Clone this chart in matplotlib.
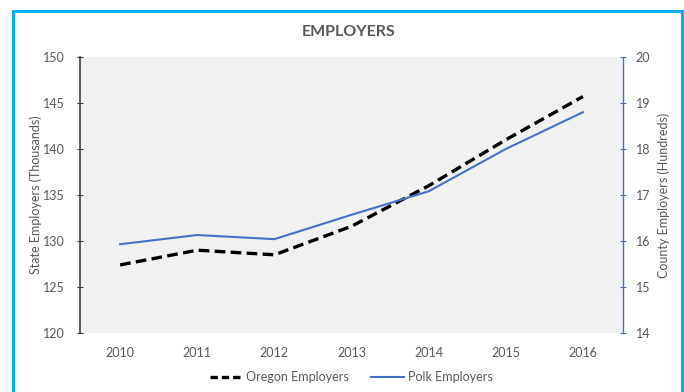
import matplotlib.pyplot as plt
from matplotlib.patches import Rectangle
from matplotlib.lines import Line2D

years = ["2010", "2011", "2012", "2013", "2014", "2015", "2016"]
oregon = [127.4, 129.0, 128.5, 131.6, 136.0, 141.0, 145.7]   # thousands
polk = [15.93, 16.13, 16.04, 16.57, 17.08, 18.0, 18.8]       # hundreds

GRAY = "#595959"
BLUE = "#4472c4"

plt.rcParams['font.family'] = ['Lato', 'DejaVu Sans']


def main():
  fig = plt.figure(figsize=(6.84, 3.92), dpi=100)
  fig.patch.set_facecolor("white")

  # cyan frame around the chart
  fig.add_artist(Rectangle((13/684, -0.05), (682-13)/684, 1.05 - 11/392,
                           transform=fig.transFigure, fill=False,
                           edgecolor="#00b0f0", linewidth=2.2))

  ax = fig.add_axes([80/684, 59/392, 543/684, 276/392])
  ax.set_facecolor("#f1f1f1")
  x = list(range(len(years)))

  ax.plot(x, oregon, '--', color="black", linewidth=2.4, dashes=(3.2, 1.6))
  ax.set_ylim(120, 150)
  ax.set_yticks(range(120, 151, 5))
  ax.set_xlim(-0.52, len(years) - 0.48)
  ax.set_xticks(x)
  ax.set_xticklabels(years)

  ax2 = ax.twinx()
  ax2.plot(x, polk, '-', color=BLUE, linewidth=1.5)
  ax2.set_ylim(14, 20)
  ax2.set_yticks(range(14, 21))

  for s in ["top", "bottom"]:
    ax.spines[s].set_visible(False)
    ax2.spines[s].set_visible(False)
  ax.spines["right"].set_visible(False)
  ax2.spines["left"].set_visible(False)
  ax.spines["left"].set_color("#404040")
  ax.spines["left"].set_linewidth(1.2)
  ax2.spines["right"].set_color(BLUE)
  ax2.spines["right"].set_linewidth(1.0)

  ax.tick_params(axis="y", direction="inout", length=4, color="#404040",
                 labelsize=9, labelcolor=GRAY, pad=9)
  ax.tick_params(axis="x", length=0, labelsize=9, labelcolor=GRAY, pad=10)
  ax2.tick_params(axis="y", direction="inout", length=4, color=BLUE,
                  labelsize=9, labelcolor=GRAY, pad=7)

  ax.set_ylabel("State Employers (Thousands)", color=GRAY, fontsize=9)
  ax2.set_ylabel("County Employers (Hundreds)", color=GRAY, fontsize=9)
  ax.yaxis.set_label_coords((42 - 80) / 543, 0.5)
  ax2.yaxis.set_label_coords((657 - 80) / 543, 0.5)

  fig.text(0.51, 1 - 32/392, "EMPLOYERS", ha="center", va="center",
           fontsize=11.5, fontweight="bold", color=GRAY)

  handles = [Line2D([], [], color="black", linestyle="--", linewidth=2.4, dashes=(2.2, 1.2)),
             Line2D([], [], color=BLUE, linewidth=1.5)]
  fig.legend(handles, ["Oregon Employers", "Polk Employers"], loc="center",
             bbox_to_anchor=(351/684, 15/392), ncol=2, frameon=False,
             fontsize=9, labelcolor=GRAY, handlelength=2.6, columnspacing=1.8,
             handletextpad=0.3)

  fig.savefig("out.png", dpi=100)


if __name__ == '__main__':
  main()
